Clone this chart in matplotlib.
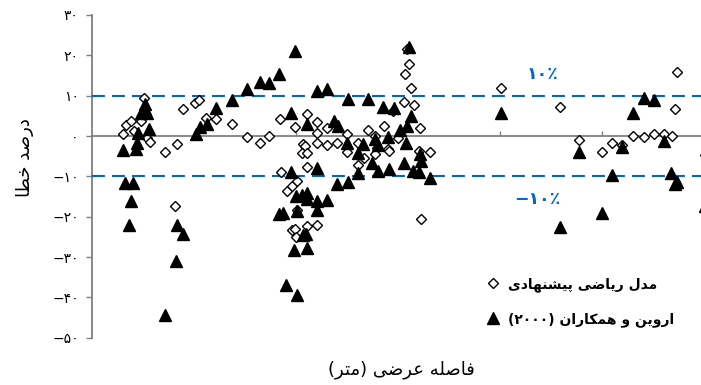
#!/usr/bin/env python3
"""
Scatter of percent error vs lateral distance: proposed model vs Irwin et al. (2000)
"""

import re
import matplotlib
matplotlib.use("Agg")
import matplotlib.pyplot as plt

# ---- data (x in tick units, y in percent error) ----
model_x = [0.51, 0.895, 1.01, 1.05, 0.307, 0.33, 0.382, 0.48, 0.415, 0.536,
           0.569, 0.716, 0.83, 1.115, 1.216, 1.37, 1.517, 1.647, 1.735, 1.843,
           1.853, 0.814, 1.99, 2.105, 2.209, 2.209, 2.307, 2.066, 2.088, 2.056,
           2.105, 2.209, 2.307, 2.405, 2.503, 2.503, 2.611, 2.667, 2.611, 2.709,
           2.775, 2.797, 2.775, 2.863, 2.905, 2.915, 3.003, 3.062, 3.127, 3.075,
           3.11, 3.095, 3.16, 3.216, 3.209, 3.314, 3.225, 1.909, 1.958, 2.007,
           2.105, 2.007, 1.958, 1.99, 2.0, 2.105, 2.209, 4.017, 4.588, 4.775,
           5.003, 5.105, 5.203, 5.307, 5.412, 5.51, 5.608, 5.69, 5.716, 5.742,
           6.01, 2.954]
model_err = [9.35, 6.62, 8.28, 8.92, 0.42, 2.65, 3.72, 3.72, 1.24, -0.4,
             -1.39, -3.87, -1.88, 4.46, 4.31, 3.07, -0.25, -1.64, 0.0, 4.31,
             -8.82, -17.35, 2.33, 5.38, 3.47, 0.84, 1.91, -2.06, -2.48, -4.12,
             -4.29, -1.64, -2.23, -1.64, 0.59, -3.87, -1.81, -5.35, -7.26, 1.41,
             0.0, -2.88, -4.54, 2.48, -3.12, -3.72, -0.4, 8.53, 12.0, 15.47,
             17.77, 21.49, 7.68, 1.91, -3.72, -3.87, -20.48, -13.63, -12.39, -11.16,
             -7.68, -18.34, -23.37, -23.13, -25.04, -22.31, -22.06, 12.0, 7.29, -1.07,
             -3.87, -1.81, -2.23, 0.0, -0.25, 0.42, 0.59, 0.0, 6.62, 15.87,
             -4.78, 6.2]

irwin_x = [0.307, 0.324, 0.40, 0.379, 0.363, 0.428, 0.438, 0.454, 0.48, 0.52,
           0.536, 0.52, 0.562, 0.83, 0.895, 0.821, 0.716, 1.017, 1.059, 1.124,
           1.216, 1.37, 1.517, 1.647, 1.735, 1.836, 1.836, 1.99, 2.209, 2.307,
           2.507, 2.709, 2.856, 2.961, 1.951, 2.105, 2.373, 2.415, 3.11, 3.127,
           3.095, 3.02, 2.905, 2.775, 2.503, 2.66, 2.611, 2.807, 3.085, 3.216,
           3.232, 3.059, 2.742, 2.807, 2.912, 2.605, 3.15, 3.209, 3.314, 1.951,
           2.203, 2.405, 2.507, 2.0, 2.056, 2.105, 2.105, 2.209, 2.307, 2.209,
           1.87, 2.007, 2.072, 2.098, 1.983, 2.105, 1.902, 2.007, 4.017, 4.588,
           4.775, 5.003, 5.105, 5.203, 5.307, 5.412, 5.51, 5.611, 5.676, 5.716,
           5.742, 6.01]
irwin_err = [-3.54, -11.55, -11.55, -16.11, -22.14, -3.3, -1.64, 0.84, 5.8, 6.62,
             5.8, 7.86, 1.83, -22.14, -24.19, -30.99, -44.45, 0.59, 2.23, 3.07,
             6.87, 8.92, 11.58, 13.49, 13.06, 15.29, -19.41, 21.07, 11.16, 11.75,
             9.27, 9.27, 7.29, 7.04, 5.8, 2.9, 3.72, 2.48, 22.06, 4.96,
             2.48, 1.41, -0.15, -0.64, -1.64, -2.06, -4.12, -2.23, -1.64, -4.54,
             -6.2, -6.59, -6.59, -8.68, -8.26, -9.25, -8.68, -8.92, -10.49, -8.92,
             -7.83, -11.97, -11.3, -14.87, -14.7, -14.03, -15.52, -16.11, -15.86, -18.34,
             -18.99, -18.59, -24.62, -24.37, -28.26, -27.84, -37.01, -39.41, 5.8, -22.56,
             -3.87, -18.99, -9.67, -2.73, 5.8, 9.35, 8.92, -1.24, -9.07, -11.8,
             -11.3, -17.4]

y_ticks = [30, 20, 10, 0, -10, -20, -30, -40, -50]
band = 10

label_model = "مدل ریاضی پیشنهادی"
label_irwin = "اروین و همکاران (۲۰۰۰)"
y_title = "درصد خطا"
x_title = "فاصله عرضی (متر)"

# ---- minimal Arabic/Persian shaping (matplotlib has no RTL layout) ----
# letter: (isolated, final, initial, medial); right-joining letters have no initial/medial
FORMS = {
    "ا": ("\uFE8D", "\uFE8E", None, None),
    "د": ("\uFEA9", "\uFEAA", None, None),
    "ر": ("\uFEAD", "\uFEAE", None, None),
    "و": ("\uFEED", "\uFEEE", None, None),
    "ب": ("\uFE8F", "\uFE90", "\uFE91", "\uFE92"),
    "ت": ("\uFE95", "\uFE96", "\uFE97", "\uFE98"),
    "خ": ("\uFEA5", "\uFEA6", "\uFEA7", "\uFEA8"),
    "ش": ("\uFEB5", "\uFEB6", "\uFEB7", "\uFEB8"),
    "ص": ("\uFEB9", "\uFEBA", "\uFEBB", "\uFEBC"),
    "ض": ("\uFEBD", "\uFEBE", "\uFEBF", "\uFEC0"),
    "ط": ("\uFEC1", "\uFEC2", "\uFEC3", "\uFEC4"),
    "ع": ("\uFEC9", "\uFECA", "\uFECB", "\uFECC"),
    "ف": ("\uFED1", "\uFED2", "\uFED3", "\uFED4"),
    "ل": ("\uFEDD", "\uFEDE", "\uFEDF", "\uFEE0"),
    "م": ("\uFEE1", "\uFEE2", "\uFEE3", "\uFEE4"),
    "ن": ("\uFEE5", "\uFEE6", "\uFEE7", "\uFEE8"),
    "ه": ("\uFEE9", "\uFEEA", "\uFEEB", "\uFEEC"),
    "ی": ("\uFBFC", "\uFBFD", "\uFBFE", "\uFBFF"),
    "ک": ("\uFB8E", "\uFB8F", "\uFB90", "\uFB91"),
    "پ": ("\uFB56", "\uFB57", "\uFB58", "\uFB59"),
}


def rtl(text):
    """Shape Persian letters and return the string in visual (LTR) order."""
    out = []
    for i, ch in enumerate(text):
        if ch not in FORMS:
            out.append(ch)
            continue
        prev = text[i - 1] if i > 0 else ""
        nxt = text[i + 1] if i + 1 < len(text) else ""
        join_prev = prev in FORMS and FORMS[prev][2] is not None
        join_next = nxt in FORMS and FORMS[ch][2] is not None
        iso, fin, ini, med = FORMS[ch]
        if join_prev and join_next:
            out.append(med)
        elif join_prev:
            out.append(fin)
        elif join_next:
            out.append(ini)
        else:
            out.append(iso)
    shaped = "".join(out)
    parts = re.findall(r"[۰-۹0-9]+|.", shaped)
    return "".join(parts[::-1]).translate(str.maketrans("()", ")("))


def fa_num(v):
    digits = str(abs(v)).translate(str.maketrans("0123456789", "۰۱۲۳۴۵۶۷۸۹"))
    return ("\u2212" if v < 0 else "") + digits


plt.rcParams["font.family"] = ["DejaVu Sans"]

fig = plt.figure(figsize=(7.01, 3.85), dpi=100)
# axes run past the right edge, as in the reference
ax = fig.add_axes([92 / 701, 47.3 / 385, 632 / 701, 322.7 / 385])

ax.plot(model_x, model_err, linestyle="none", marker="D", ms=4.6,
        mfc="white", mec="black", mew=1.0, label=rtl(label_model), zorder=3)
ax.plot(irwin_x, irwin_err, linestyle="none", marker="^", ms=8.2,
        color="black", label=rtl(label_irwin), zorder=4)

blue = "#0066CC"
for lvl in (band, -band):
    ax.axhline(lvl, color=blue, lw=1.5, dashes=(6.2, 3.4), zorder=2)
ax.text(4.42, 15.3, "۱۰٪", color=blue, fontsize=12.5, fontweight="bold",
        ha="center", va="center")
ax.text(4.37, -15.7, "\u2212۱۰٪", color=blue, fontsize=12.5, fontweight="bold",
        ha="center", va="center")

ax.set_xlim(0, 6.2)
ax.set_ylim(-50, 30)
ax.set_yticks(y_ticks)
ax.set_yticklabels([fa_num(v) for v in y_ticks], fontsize=10)
ax.set_xticks(range(1, 7))
ax.set_xticklabels([])

ax.spines["top"].set_visible(False)
ax.spines["right"].set_visible(False)
ax.spines["bottom"].set_position(("data", 0))
for s in ("left", "bottom"):
    ax.spines[s].set_color("#808080")
    ax.spines[s].set_linewidth(1.3)
    ax.spines[s].set_zorder(1)
ax.tick_params(axis="y", direction="out", length=4.5, width=1.0,
               color="#808080", pad=5)
ax.tick_params(axis="x", direction="in", length=3.5, width=1.0,
               color="#808080")

fig.text(25 / 701, 1 - 158 / 385, rtl(y_title), rotation=90, fontsize=13,
         ha="center", va="center")
fig.text(401 / 701, 1 - 370 / 385, rtl(x_title), fontsize=13,
         ha="center", va="center")

ax.legend(loc="upper left", bbox_to_anchor=(486 / 701, 1 - 277 / 385),
          bbox_transform=fig.transFigure, frameon=False, borderpad=0,
          borderaxespad=0, handlelength=1.0, handletextpad=0.6,
          labelspacing=1.45, prop=dict(weight="bold", size=10))

fig.savefig("out.png", dpi=100)
